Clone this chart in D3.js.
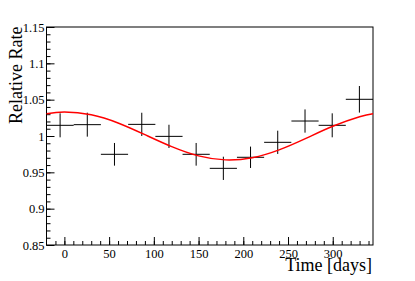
<!DOCTYPE html>
<html>
<head>
<meta charset="utf-8">
<script src="https://cdn.jsdelivr.net/npm/d3@7"></script>
<style>
  body { margin: 0; background: #fff; }
  svg { display: block; }
  .axis path, .axis line { stroke: #000; }
</style>
</head>
<body>
<svg width="415" height="281"></svg>
<script>
// bin centres in days, rates and errors
var days = [-4.8, 25.6, 56.0, 86.5, 116.9, 147.3, 177.7, 208.1, 238.5, 269.0, 299.4, 329.8];
var halfWidth = 15.2;
var rates = [1.0147, 1.0156, 0.9748, 1.016, 0.9995, 0.9748, 0.9555, 0.9707, 0.9913, 1.0206, 1.0147, 1.0505];
var errors = [0.0165, 0.0165, 0.0156, 0.0160, 0.0160, 0.0156, 0.0160, 0.0147, 0.0160, 0.0160, 0.0165, 0.0183];

// red fit curve
var fitDays = [-20, 0, 30, 60, 90, 120, 150, 180, 210, 240, 270, 300, 330, 345];
var fitRates = [1.0307, 1.0330, 1.0292, 1.0179, 1.0018, 0.9853, 0.9726, 0.9671, 0.9701, 0.9809, 0.9967, 1.0134, 1.0265, 1.0307];

var xTicks = [0, 50, 100, 150, 200, 250, 300];
var yTicks = [0.85, 0.9, 0.95, 1, 1.05, 1.1, 1.15];
var yTickLabels = ["0.85", "0.9", "0.95", "1", "1.05", "1.1", "1.15"];

var serif = "'Liberation Serif', 'Times New Roman', serif";
var svg = d3.select("svg");
var frameL = 46.5, frameR = 373, frameT = 27, frameB = 245;

var x = d3.scaleLinear().domain([-20, 345]).range([frameL, frameR]);
var y = d3.scaleLinear().domain([0.85, 1.15]).range([frameB, frameT]);

// frame
svg.append("rect")
  .attr("x", frameL).attr("y", frameT)
  .attr("width", frameR - frameL).attr("height", frameB - frameT)
  .attr("fill", "none").attr("stroke", "#000").attr("stroke-width", 1);

// minor ticks
svg.append("g").attr("class", "axis")
  .attr("transform", "translate(0," + frameB + ")")
  .call(d3.axisBottom(x).tickValues(d3.range(-10, 345, 10)).tickSize(-4).tickSizeOuter(0).tickFormat(""));
svg.append("g").attr("class", "axis")
  .attr("transform", "translate(" + frameL + ",0)")
  .call(d3.axisLeft(y).tickValues(d3.range(0, 31).map(function(i) { return 0.85 + i * 0.01; }))
    .tickSize(-4).tickSizeOuter(0).tickFormat(""));

// major ticks and labels
svg.append("g").attr("class", "axis")
  .attr("transform", "translate(0," + frameB + ")")
  .call(d3.axisBottom(x).tickValues(xTicks).tickSize(-8).tickSizeOuter(0).tickPadding(4));
svg.append("g").attr("class", "axis")
  .attr("transform", "translate(" + frameL + ",0)")
  .call(d3.axisLeft(y).tickValues(yTicks).tickSize(-8).tickSizeOuter(0).tickPadding(2)
    .tickFormat(function(d, i) { return yTickLabels[i]; }));

svg.selectAll(".axis").attr("font-family", serif).attr("font-size", 12.5);
svg.selectAll(".axis text").attr("font-family", serif).attr("fill", "#000");
svg.selectAll(".axis .domain").remove();

// data points with error bars
svg.append("clipPath").attr("id", "frame")
  .append("rect").attr("x", frameL).attr("y", frameT).attr("width", frameR - frameL).attr("height", frameB - frameT);

var pts = svg.append("g").attr("clip-path", "url(#frame)")
  .attr("stroke", "#000").attr("stroke-width", 1);
days.forEach(function(d, i) {
  pts.append("line")
    .attr("x1", x(d - halfWidth)).attr("x2", x(d + halfWidth))
    .attr("y1", y(rates[i])).attr("y2", y(rates[i]));
  pts.append("line")
    .attr("x1", x(d)).attr("x2", x(d))
    .attr("y1", y(rates[i] - errors[i])).attr("y2", y(rates[i] + errors[i]));
});

// fit curve
var line = d3.line()
  .x(function(d, i) { return x(fitDays[i]); })
  .y(function(d) { return y(d); })
  .curve(d3.curveNatural);
svg.append("path")
  .datum(fitRates)
  .attr("d", line)
  .attr("fill", "none")
  .attr("stroke", "#ff0000")
  .attr("stroke-width", 1.4);

// axis titles
svg.append("text")
  .attr("x", frameR - 1).attr("y", 270.5)
  .attr("text-anchor", "end")
  .attr("font-family", serif)
  .attr("font-size", 18)
  .text("Time [days]");
svg.append("text")
  .attr("transform", "translate(21.5," + (frameT - 0.5) + ") rotate(-90)")
  .attr("text-anchor", "end")
  .attr("font-family", serif)
  .attr("font-size", 18)
  .text("Relative Rate");
</script>
</body>
</html>
